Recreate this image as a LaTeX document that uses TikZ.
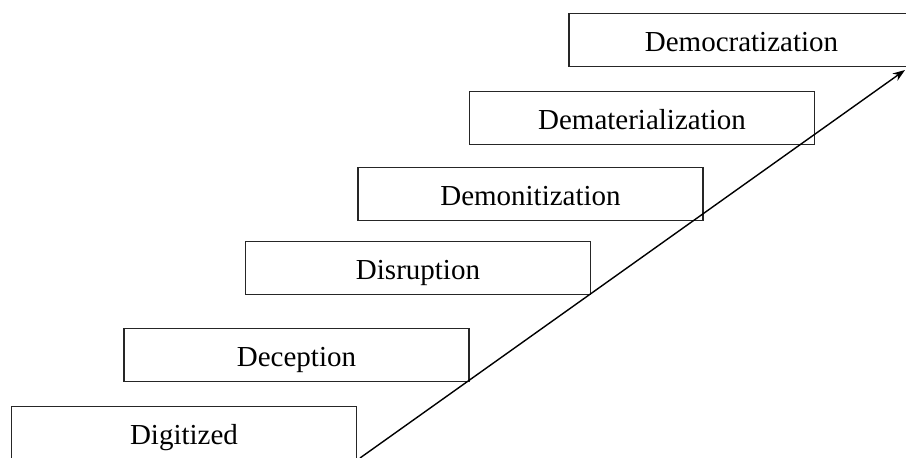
\documentclass[tikz,border=0pt]{standalone}
\usepackage{fontspec}
\setmainfont{Liberation Serif}
\usetikzlibrary{arrows.meta}

\begin{document}
\begin{tikzpicture}[x=0.02cm, y=-0.02cm,
    stage/.style={rectangle, draw=black!85, line width=0.8pt, minimum width=6.9cm, minimum height=1.07cm, inner sep=0pt, text height=13.6pt, text depth=0pt, font=\fontsize{16.5}{20}\selectfont}]
        \useasboundingbox (0, 0) rectangle (906, 457);
        % Stages
        \node (dig) at (184, 433) [stage] {Digitized};
        \node (dec) at (296.5, 355) [stage] {Deception};
        \node (dis) at (418, 268) [stage] {Disruption};
        \node (dmn) at (530.5, 194) [stage] {Demonitization};
        \node (dmt) at (642, 118) [stage] {Dematerialization};
        \node (dcr) at (741.5, 40) [stage] {Democratization};
        % Rising arrow
        \coordinate (base) at (360, 458);
        \coordinate (tip) at (905, 70);
        \draw[line width=0.8pt, -{Stealth[length=7pt, width=5pt]}] (base) -- (tip);
    \end{tikzpicture}
\end{document}
